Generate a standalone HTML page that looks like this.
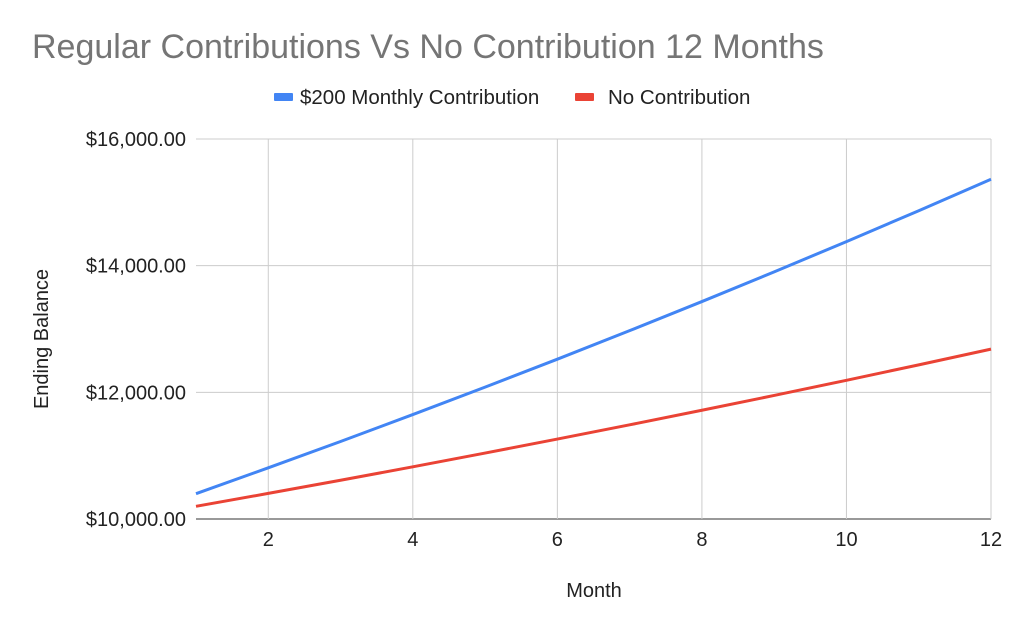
<!DOCTYPE html>
<html><head><meta charset="utf-8"><style>
body{margin:0;background:#fff;}
svg{display:block;font-family:"Liberation Sans",Arial,sans-serif;}
</style></head><body>
<svg id="chart" width="1024" height="633" viewBox="0 0 1024 633">
<rect width="1024" height="633" fill="#fff"/>
<text x="32" y="58" font-size="34" fill="#757575">Regular Contributions Vs No Contribution 12 Months</text>
<g>
<g>
<rect x="274" y="93" width="19" height="8" rx="1" fill="#4285f4"/>
<text x="300" y="104" font-size="20.5" fill="#222">$200 Monthly Contribution</text>
</g>
<g>
<rect x="575" y="93" width="19" height="8" rx="1" fill="#ea4335"/>
<text x="608" y="104" font-size="20.5" fill="#222">No Contribution</text>
</g>
</g>
<g id="grid"></g>
<g id="yticks"></g>
<g id="xticks"></g>
<g id="series"></g>
<text transform="translate(48,339) rotate(-90)" text-anchor="middle" font-size="20" fill="#222">Ending Balance</text>
<text x="594" y="597" text-anchor="middle" font-size="20" fill="#222">Month</text>
</svg>
<script>
const months=[1,2,3,4,5,6,7,8,9,10,11,12];
const monthlyContribution=[10400,10808,11224,11649,12082,12523,12974,13433,13902,14380,14868,15365];
const noContribution=[10200,10404,10612,10824,11041,11262,11487,11717,11951,12190,12434,12682];
const yTicks=[10000,12000,14000,16000];
const yTickLabels=["$10,000.00","$12,000.00","$14,000.00","$16,000.00"];
const xTicks=[2,4,6,8,10,12];
const NS="http://www.w3.org/2000/svg";
const X0=196,X1=991,Y0=519,Y1=139;
function xs(m){return X0+(m-1)/(12-1)*(X1-X0);}
function ys(v){return Y0-(v-10000)/(16000-10000)*(Y0-Y1);}
function mk(tag,attrs,parent){const e=document.createElementNS(NS,tag);for(const k in attrs)e.setAttribute(k,attrs[k]);parent.appendChild(e);return e;}
const grid=document.getElementById('grid'),yt=document.getElementById('yticks'),xt=document.getElementById('xticks'),ser=document.getElementById('series');
yTicks.forEach((v,i)=>{
 const l=mk('line',{x1:X0,x2:X1,y1:ys(v),y2:ys(v),stroke:i===0?'#333':'#ccc','stroke-width':1},grid);
 
 
 const t=mk('text',{x:186,y:ys(v)+7,'text-anchor':'end','font-size':20,fill:'#222'},yt);
 t.textContent=yTickLabels[i];
 
 
});
xTicks.forEach(m=>{
 const l=mk('line',{x1:xs(m),x2:xs(m),y1:Y1,y2:Y0,stroke:'#ccc','stroke-width':1},grid);
 
 
 const t=mk('text',{x:xs(m),y:546,'text-anchor':'middle','font-size':20,fill:'#222'},xt);
 t.textContent=m;
 
 
});
function line(vals,color,name){
 const p=mk('polyline',{points:vals.map((v,i)=>xs(months[i])+','+ys(v)).join(' '),fill:'none',stroke:color,'stroke-width':3,'stroke-linejoin':'round'},ser);
 
 
}
line(noContribution,'#ea4335','no-contribution-line');
line(monthlyContribution,'#4285f4','monthly-contribution-line');
</script>
</body></html>
